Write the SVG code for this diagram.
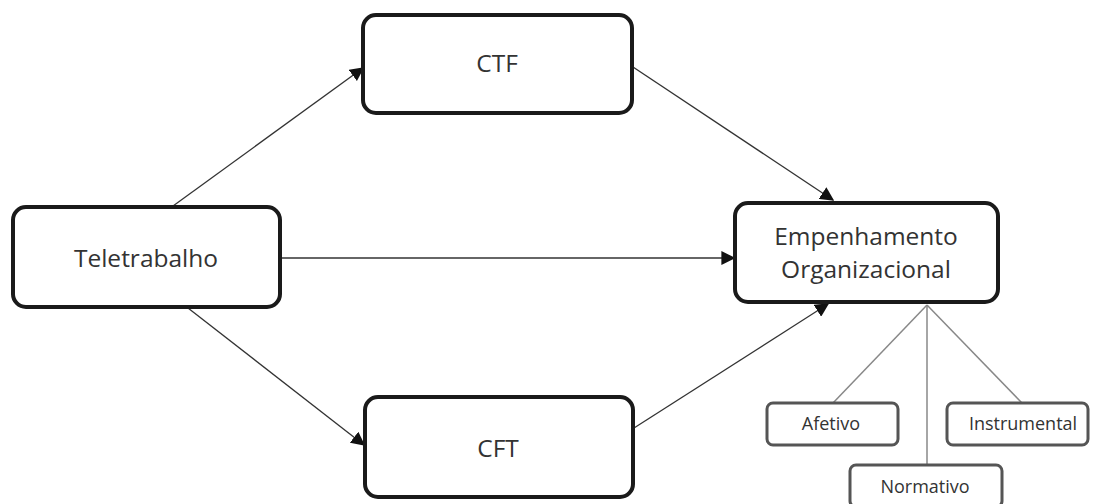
<svg xmlns="http://www.w3.org/2000/svg" width="1093" height="504" viewBox="0 0 1093 504">
<style>
.box{fill:#fff;stroke:#1a1a1a;stroke-width:4}
.sub{fill:#fff;stroke:#555;stroke-width:3}
.t{font-family:"Open Sans","Liberation Sans",sans-serif;font-size:24.5px;fill:#333;text-anchor:middle}
.s{font-family:"Open Sans","Liberation Sans",sans-serif;font-size:18px;fill:#333;text-anchor:middle}
.c{stroke:#333;stroke-width:1.3;fill:none;marker-end:url(#ah)}
.g{stroke:#888;stroke-width:1.5;fill:none}
</style>
<defs>
<marker id="ah" viewBox="0 0 10 10" refX="9" refY="5" markerWidth="14" markerHeight="14" markerUnits="userSpaceOnUse" orient="auto">
<path d="M0,0 L10,5 L0,10 z" fill="#111"/>
</marker>
</defs>
<g id="connectors">
<path class="c" d="M173,206 L363,68"/>
<path class="c" d="M633,67 L833,200"/>
<path class="c" d="M281,258 L734,258"/>
<path class="c" d="M188,308 L364,445"/>
<path class="c" d="M634,428 L828,304"/>
<path class="g" d="M927,305 L833,403"/>
<path class="g" d="M927,305 L927,465"/>
<path class="g" d="M927,305 L1022,403"/>
</g>
<g id="teletrabalho">
<rect class="box" x="13" y="207" width="267" height="100" rx="13"/>
<text class="t" x="146" y="267">Teletrabalho</text>
</g>
<g id="ctf">
<rect class="box" x="363" y="15" width="269" height="98" rx="13"/>
<text class="t" x="497" y="72">CTF</text>
</g>
<g id="cft">
<rect class="box" x="365" y="397" width="268" height="100" rx="13"/>
<text class="t" x="498" y="457">CFT</text>
</g>
<g id="empenhamento">
<rect class="box" x="735" y="203" width="263" height="99" rx="13"/>
<text class="t" x="866" y="245">Empenhamento</text>
<text class="t" x="866" y="278">Organizacional</text>
</g>
<g id="afetivo">
<rect class="sub" x="767" y="403" width="131" height="42" rx="6"/>
<text class="s" x="831" y="430">Afetivo</text>
</g>
<g id="instrumental">
<rect class="sub" x="947" y="403" width="141" height="42" rx="6"/>
<text class="s" x="1023" y="430">Instrumental</text>
</g>
<g id="normativo">
<rect class="sub" x="850" y="465" width="152" height="42" rx="6"/>
<text class="s" x="925" y="493">Normativo</text>
</g>
</svg>
